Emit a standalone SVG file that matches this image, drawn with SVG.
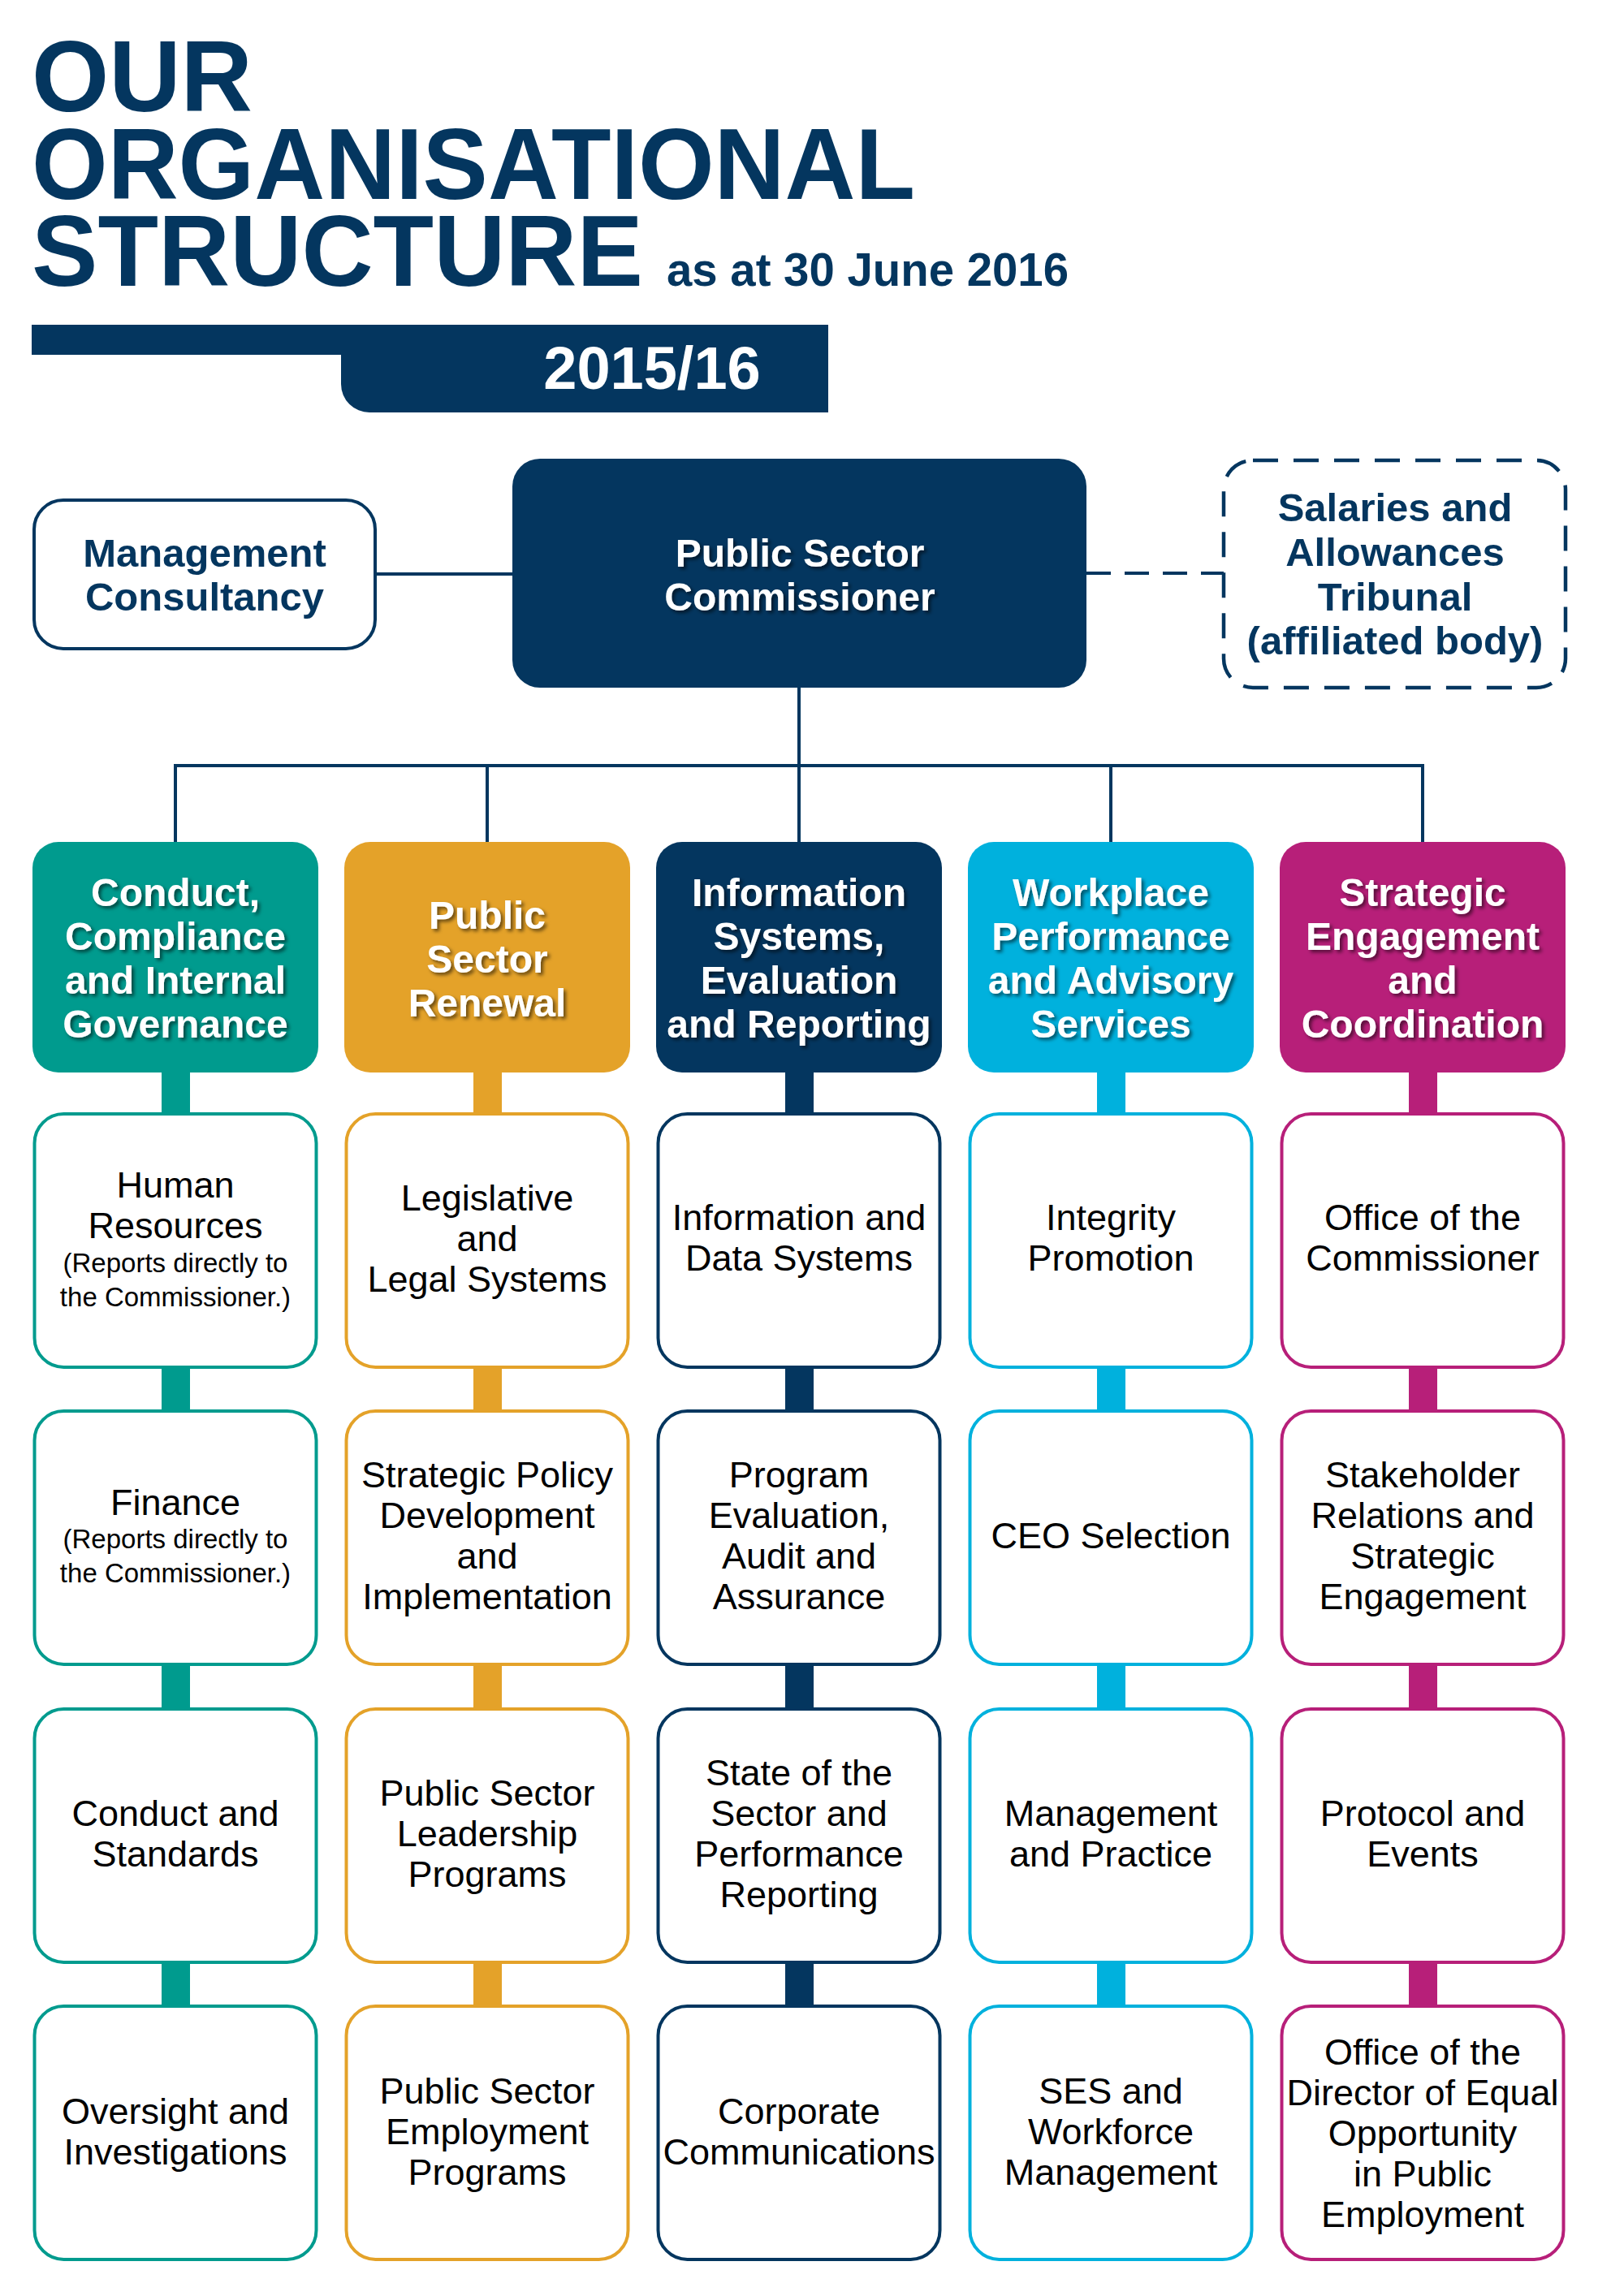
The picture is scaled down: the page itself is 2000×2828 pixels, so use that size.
<svg xmlns="http://www.w3.org/2000/svg" width="2000" height="2828" viewBox="0 0 2000 2828">
<defs>
<filter id="sh" x="-10%" y="-10%" width="130%" height="130%">
<feDropShadow dx="3" dy="3" stdDeviation="2" flood-color="#000" flood-opacity="0.55"/>
</filter>
</defs>
<style>
.title{font-family:"Liberation Sans",Arial,sans-serif;font-weight:bold;fill:#04365f}
.hd{font-family:"Liberation Sans",Arial,sans-serif;font-weight:bold;font-size:48px;fill:#fff;text-anchor:middle;filter:url(#sh)}
.nv{font-family:"Liberation Sans",Arial,sans-serif;font-weight:bold;font-size:49px;fill:#04365f;text-anchor:middle}
.sb{font-family:"Liberation Sans",Arial,sans-serif;font-size:45px;fill:#000;text-anchor:middle}
.sm{font-size:33px}
.box{fill:#fff;stroke-width:4}
.teal{fill:#009b8e}.orange{fill:#e4a229}.navy{fill:#04365f}.cyan{fill:#00b1dd}.mag{fill:#b71f79}
.s-teal{stroke:#009b8e}.s-orange{stroke:#e4a229}.s-navy{stroke:#04365f}.s-cyan{stroke:#00b1dd}.s-mag{stroke:#b71f79}
.ln{stroke:#04365f;stroke-width:4;fill:none}
</style>
<rect width="2000" height="2828" fill="#fff"/>

<g id="title">
<text class="title" x="39" y="137" font-size="124" textLength="272" lengthAdjust="spacingAndGlyphs">OUR</text>
<text class="title" x="39" y="245" font-size="124" textLength="1088" lengthAdjust="spacingAndGlyphs">ORGANISATIONAL</text>
<text class="title" x="39" y="352" font-size="124" textLength="753" lengthAdjust="spacingAndGlyphs">STRUCTURE</text>
<text class="title" x="821" y="352" font-size="57" textLength="495" lengthAdjust="spacingAndGlyphs">as at 30 June 2016</text>
<path d="M39 400 H1020 V508 H455 A35 35 0 0 1 420 473 V437 H39 Z" fill="#04365f"/>
<text x="803" y="479" font-family="Liberation Sans,Arial,sans-serif" font-weight="bold" font-size="74" fill="#fff" text-anchor="middle">2015/16</text>
</g>

<g id="connectors">
<line class="ln" x1="462" y1="707" x2="631" y2="707"/>
<line class="ln" x1="1338" y1="706" x2="1507" y2="706" stroke-dasharray="30 17"/>
<line class="ln" x1="984" y1="846" x2="984" y2="945"/>
<line class="ln" x1="216" y1="943" x2="1752" y2="943"/>
<line class="ln" x1="216" y1="941" x2="216" y2="1040"/>
<line class="ln" x1="600" y1="941" x2="600" y2="1040"/>
<line class="ln" x1="984" y1="941" x2="984" y2="1040"/>
<line class="ln" x1="1368" y1="941" x2="1368" y2="1040"/>
<line class="ln" x1="1752" y1="941" x2="1752" y2="1040"/>
<rect class="teal" x="199" y="1310" width="35" height="1170"/>
<rect class="orange" x="583" y="1310" width="35" height="1170"/>
<rect class="navy" x="967" y="1310" width="35" height="1170"/>
<rect class="cyan" x="1351" y="1310" width="35" height="1170"/>
<rect class="mag" x="1735" y="1310" width="35" height="1170"/>
</g>

<g id="management-consultancy">
<rect x="42" y="616" width="420" height="183" rx="36" fill="#fff" stroke="#04365f" stroke-width="4"/>
<text class="nv" x="252" y="698">Management</text>
<text class="nv" x="252" y="752">Consultancy</text>
</g>

<g id="commissioner">
<rect x="631" y="565" width="707" height="282" rx="34" fill="#04365f"/>
<text class="hd" font-size="49" x="985" y="698">Public Sector</text>
<text class="hd" font-size="49" x="985" y="752">Commissioner</text>
</g>

<g id="salaries-tribunal">
<rect x="1507" y="567" width="421" height="280" rx="36" fill="#fff" stroke="#04365f" stroke-width="4.5" stroke-dasharray="31 19"/>
<text class="nv" x="1718" y="642">Salaries and</text>
<text class="nv" x="1718" y="697">Allowances</text>
<text class="nv" x="1718" y="752">Tribunal</text>
<text class="nv" x="1718" y="806">(affiliated body)</text>
</g>

<!-- Division headers -->
<g id="div-conduct">
<rect class="teal" x="40" y="1037" width="352" height="284" rx="32"/>
<text class="hd" x="216" y="1116">Conduct,<tspan x="216" dy="54">Compliance</tspan><tspan x="216" dy="54">and Internal</tspan><tspan x="216" dy="54">Governance</tspan></text>
</g>
<g id="div-renewal">
<rect class="orange" x="424" y="1037" width="352" height="284" rx="32"/>
<text class="hd" x="600" y="1144">Public<tspan x="600" dy="54">Sector</tspan><tspan x="600" dy="54">Renewal</tspan></text>
</g>
<g id="div-information">
<rect class="navy" x="808" y="1037" width="352" height="284" rx="32"/>
<text class="hd" x="984" y="1116">Information<tspan x="984" dy="54">Systems,</tspan><tspan x="984" dy="54">Evaluation</tspan><tspan x="984" dy="54">and Reporting</tspan></text>
</g>
<g id="div-workplace">
<rect class="cyan" x="1192" y="1037" width="352" height="284" rx="32"/>
<text class="hd" x="1368" y="1116">Workplace<tspan x="1368" dy="54">Performance</tspan><tspan x="1368" dy="54">and Advisory</tspan><tspan x="1368" dy="54">Services</tspan></text>
</g>
<g id="div-strategic">
<rect class="mag" x="1576" y="1037" width="352" height="284" rx="32"/>
<text class="hd" x="1752" y="1116">Strategic<tspan x="1752" dy="54">Engagement</tspan><tspan x="1752" dy="54">and</tspan><tspan x="1752" dy="54">Coordination</tspan></text>
</g>

<!-- Column 1 teal -->
<g id="human-resources">
<rect class="box s-teal" x="42.5" y="1372" width="347" height="312" rx="36"/>
<text class="sb" x="216" y="1475">Human<tspan x="216" dy="50">Resources</tspan><tspan class="sm" x="216" dy="42">(Reports directly to</tspan><tspan class="sm" x="216" dy="42">the Commissioner.)</tspan></text>
</g>
<g id="finance">
<rect class="box s-teal" x="42.5" y="1738" width="347" height="312" rx="36"/>
<text class="sb" x="216" y="1866">Finance<tspan class="sm" x="216" dy="41">(Reports directly to</tspan><tspan class="sm" x="216" dy="42">the Commissioner.)</tspan></text>
</g>
<g id="conduct-standards">
<rect class="box s-teal" x="42.5" y="2105" width="347" height="312" rx="36"/>
<text class="sb" x="216" y="2249">Conduct and<tspan x="216" dy="50">Standards</tspan></text>
</g>
<g id="oversight">
<rect class="box s-teal" x="42.5" y="2471" width="347" height="312" rx="36"/>
<text class="sb" x="216" y="2616">Oversight and<tspan x="216" dy="50">Investigations</tspan></text>
</g>

<!-- Column 2 orange -->
<g id="legislative">
<rect class="box s-orange" x="426.5" y="1372" width="347" height="312" rx="36"/>
<text class="sb" x="600" y="1491">Legislative<tspan x="600" dy="50">and</tspan><tspan x="600" dy="50">Legal Systems</tspan></text>
</g>
<g id="strategic-policy">
<rect class="box s-orange" x="426.5" y="1738" width="347" height="312" rx="36"/>
<text class="sb" x="600" y="1832">Strategic Policy<tspan x="600" dy="50">Development</tspan><tspan x="600" dy="50">and</tspan><tspan x="600" dy="50">Implementation</tspan></text>
</g>
<g id="leadership-programs">
<rect class="box s-orange" x="426.5" y="2105" width="347" height="312" rx="36"/>
<text class="sb" x="600" y="2224">Public Sector<tspan x="600" dy="50">Leadership</tspan><tspan x="600" dy="50">Programs</tspan></text>
</g>
<g id="employment-programs">
<rect class="box s-orange" x="426.5" y="2471" width="347" height="312" rx="36"/>
<text class="sb" x="600" y="2591">Public Sector<tspan x="600" dy="50">Employment</tspan><tspan x="600" dy="50">Programs</tspan></text>
</g>

<!-- Column 3 navy -->
<g id="info-data">
<rect class="box s-navy" x="810.5" y="1372" width="347" height="312" rx="36"/>
<text class="sb" x="984" y="1515">Information and<tspan x="984" dy="50">Data Systems</tspan></text>
</g>
<g id="program-evaluation">
<rect class="box s-navy" x="810.5" y="1738" width="347" height="312" rx="36"/>
<text class="sb" x="984" y="1832">Program<tspan x="984" dy="50">Evaluation,</tspan><tspan x="984" dy="50">Audit and</tspan><tspan x="984" dy="50">Assurance</tspan></text>
</g>
<g id="state-of-sector">
<rect class="box s-navy" x="810.5" y="2105" width="347" height="312" rx="36"/>
<text class="sb" x="984" y="2199">State of the<tspan x="984" dy="50">Sector and</tspan><tspan x="984" dy="50">Performance</tspan><tspan x="984" dy="50">Reporting</tspan></text>
</g>
<g id="corporate-comms">
<rect class="box s-navy" x="810.5" y="2471" width="347" height="312" rx="36"/>
<text class="sb" x="984" y="2616">Corporate<tspan x="984" dy="50">Communications</tspan></text>
</g>

<!-- Column 4 cyan -->
<g id="integrity">
<rect class="box s-cyan" x="1194.5" y="1372" width="347" height="312" rx="36"/>
<text class="sb" x="1368" y="1515">Integrity<tspan x="1368" dy="50">Promotion</tspan></text>
</g>
<g id="ceo-selection">
<rect class="box s-cyan" x="1194.5" y="1738" width="347" height="312" rx="36"/>
<text class="sb" x="1368" y="1907">CEO Selection</text>
</g>
<g id="management-practice">
<rect class="box s-cyan" x="1194.5" y="2105" width="347" height="312" rx="36"/>
<text class="sb" x="1368" y="2249">Management<tspan x="1368" dy="50">and Practice</tspan></text>
</g>
<g id="ses-workforce">
<rect class="box s-cyan" x="1194.5" y="2471" width="347" height="312" rx="36"/>
<text class="sb" x="1368" y="2591">SES and<tspan x="1368" dy="50">Workforce</tspan><tspan x="1368" dy="50">Management</tspan></text>
</g>

<!-- Column 5 magenta -->
<g id="office-commissioner">
<rect class="box s-mag" x="1578.5" y="1372" width="347" height="312" rx="36"/>
<text class="sb" x="1752" y="1515">Office of the<tspan x="1752" dy="50">Commissioner</tspan></text>
</g>
<g id="stakeholder">
<rect class="box s-mag" x="1578.5" y="1738" width="347" height="312" rx="36"/>
<text class="sb" x="1752" y="1832">Stakeholder<tspan x="1752" dy="50">Relations and</tspan><tspan x="1752" dy="50">Strategic</tspan><tspan x="1752" dy="50">Engagement</tspan></text>
</g>
<g id="protocol-events">
<rect class="box s-mag" x="1578.5" y="2105" width="347" height="312" rx="36"/>
<text class="sb" x="1752" y="2249">Protocol and<tspan x="1752" dy="50">Events</tspan></text>
</g>
<g id="deoppe">
<rect class="box s-mag" x="1578.5" y="2471" width="347" height="312" rx="36"/>
<text class="sb" x="1752" y="2543">Office of the<tspan x="1752" dy="50">Director of Equal</tspan><tspan x="1752" dy="50">Opportunity</tspan><tspan x="1752" dy="50">in Public</tspan><tspan x="1752" dy="50">Employment</tspan></text>
</g>
</svg>
